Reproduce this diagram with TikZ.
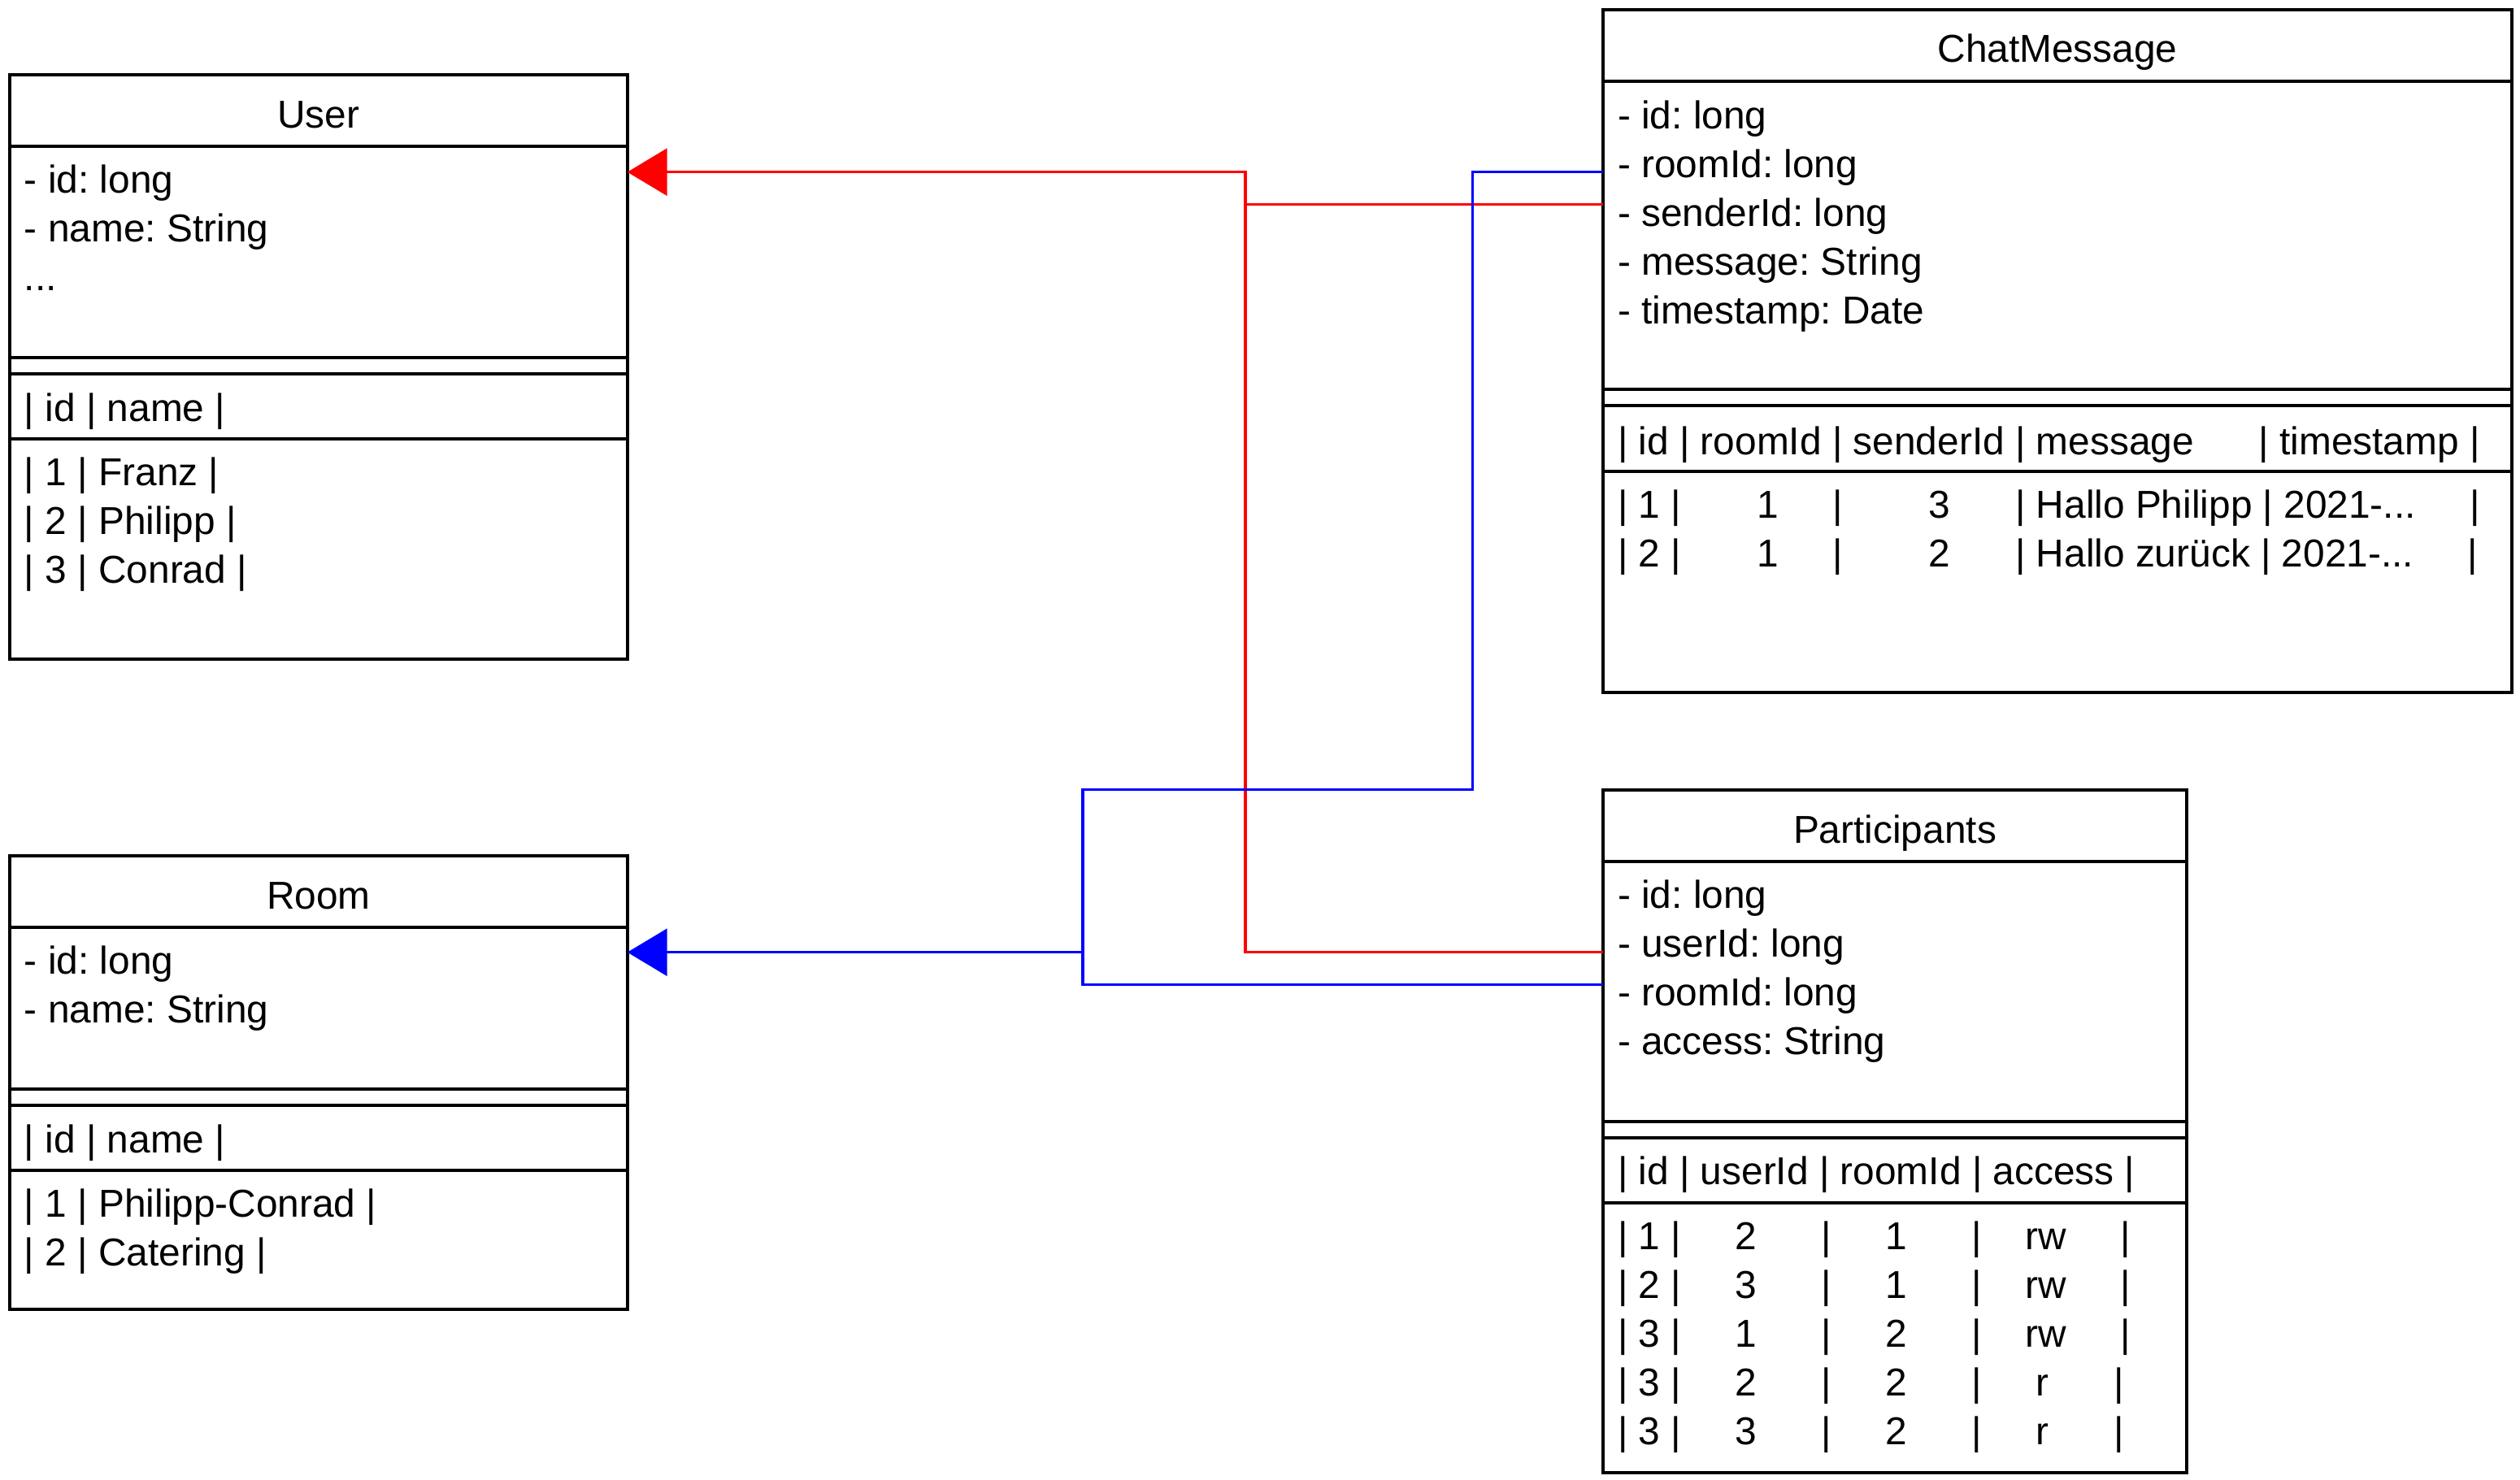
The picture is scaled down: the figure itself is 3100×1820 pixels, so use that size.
\documentclass[tikz,border=0pt]{standalone}
\usepackage{fontspec}
\setmainfont{Liberation Sans}
\usetikzlibrary{arrows.meta,fit,calc}
\newcommand\spc[1]{\hskip#1\fontdimen2\font\relax}
\frenchspacing
\begin{document}
\begin{tikzpicture}[x=0.01cm,y=-0.01cm,
  font=\fontsize{13.6pt}{17pt}\selectfont,
  box/.style={draw, line width=1.1pt, inner sep=0pt, outer sep=0pt},
  sepline/.style={line width=1.1pt},
  txt/.style={anchor=base west, inner sep=0pt, outer sep=0pt},
  ttl/.style={anchor=base, inner sep=0pt, outer sep=0pt},
  link/.style={line width=0.95pt},
  tipA/.style={-{Triangle[length=0.49cm,width=0.58cm]}}]
\useasboundingbox (0,0) rectangle (3100,1820);

% ---------- boxes ----------
\node[box, fit={(12,92) (771.7,811)}] (user) {};
\node[box, fit={(12,1053) (771.7,1611)}] (room) {};
\node[box, fit={(1972,12) (3090,852)}] (chat) {};
\node[box, fit={(1972,972) (2690,1812)}] (part) {};

% compartment lines
\draw[sepline] (12,180) -- (771.7,180);
\draw[sepline] (12,440) -- (771.7,440);
\draw[sepline] (12,460) -- (771.7,460);
\draw[sepline] (12,540) -- (771.7,540);
\draw[sepline] (12,1141) -- (771.7,1141);
\draw[sepline] (12,1340) -- (771.7,1340);
\draw[sepline] (12,1360) -- (771.7,1360);
\draw[sepline] (12,1440) -- (771.7,1440);
\draw[sepline] (1972,100) -- (3090,100);
\draw[sepline] (1972,479) -- (3090,479);
\draw[sepline] (1972,499) -- (3090,499);
\draw[sepline] (1972,580) -- (3090,580);
\draw[sepline] (1972,1060) -- (2690,1060);
\draw[sepline] (1972,1380) -- (2690,1380);
\draw[sepline] (1972,1400) -- (2690,1400);
\draw[sepline] (1972,1480) -- (2690,1480);

% ---------- titles ----------
\node[ttl] (user-title) at (391.85,157) {User};
\node[ttl] (room-title) at (391.85,1118) {Room};
\node[ttl] (chat-title) at (2531,76) {ChatMessage};
\node[ttl] (part-title) at (2331,1037) {Participants};

% ---------- User ----------
\node[txt] (user-a0) at (30,237) {- id: long};
\node[txt] (user-a1) at (30,297) {- name: String};
\node[txt] (user-a2) at (30,357) {...};
\node[txt] (user-h) at (30,518) {| id | name |};
\node[txt] (user-r0) at (30,597) {| 1 | Franz |};
\node[txt] (user-r1) at (30,657) {| 2 | Philipp |};
\node[txt] (user-r2) at (30,717) {| 3 | Conrad |};

% ---------- Room ----------
\node[txt] (room-a0) at (30,1198) {- id: long};
\node[txt] (room-a1) at (30,1258) {- name: String};
\node[txt] (room-h) at (30,1418) {| id | name |};
\node[txt] (room-r0) at (30,1497) {| 1 | Philipp-Conrad |};
\node[txt] (room-r1) at (30,1557) {| 2 | Catering |};

% ---------- ChatMessage ----------
\node[txt] (chat-a0) at (1990,158) {- id: long};
\node[txt] (chat-a1) at (1990,218) {- roomId: long};
\node[txt] (chat-a2) at (1990,278) {- senderId: long};
\node[txt] (chat-a3) at (1990,338) {- message: String};
\node[txt] (chat-a4) at (1990,398) {- timestamp: Date};
\node[txt] (chat-h) at (1990,559) {| id | roomId | senderId | message\spc{6}| timestamp |};
\node[txt] (chat-r0) at (1990,637) {| 1 |\spc{7}1\spc{5}|\spc{8}3\spc{6}| Hallo Philipp | 2021-...\spc{5}|};
\node[txt] (chat-r1) at (1990,697) {| 2 |\spc{7}1\spc{5}|\spc{8}2\spc{6}| Hallo zurück | 2021-...\spc{5}|};

% ---------- Participants ----------
\node[txt] (part-a0) at (1990,1117) {- id: long};
\node[txt] (part-a1) at (1990,1177) {- userId: long};
\node[txt] (part-a2) at (1990,1237) {- roomId: long};
\node[txt] (part-a3) at (1990,1297) {- access: String};
\node[txt] (part-h) at (1990,1457) {| id | userId | roomId | access |};
\node[txt] (part-r0) at (1990,1537) {| 1 |\spc{5}2\spc{6}|\spc{5}1\spc{6}|\spc{4}rw\spc{5}|};
\node[txt] (part-r1) at (1990,1597) {| 2 |\spc{5}3\spc{6}|\spc{5}1\spc{6}|\spc{4}rw\spc{5}|};
\node[txt] (part-r2) at (1990,1657) {| 3 |\spc{5}1\spc{6}|\spc{5}2\spc{6}|\spc{4}rw\spc{5}|};
\node[txt] (part-r3) at (1990,1717) {| 3 |\spc{5}2\spc{6}|\spc{5}2\spc{6}|\spc{5}r\spc{6}|};
\node[txt] (part-r4) at (1990,1777) {| 3 |\spc{5}3\spc{6}|\spc{5}2\spc{6}|\spc{5}r\spc{6}|};

% ---------- ports and bends ----------
\coordinate (user-in) at ($(user.north east)+(0,119.7)$);
\coordinate (room-in) at ($(room.north east)+(0,118.7)$);
\coordinate (chat-room) at ($(chat.north west)+(0,199.7)$);
\coordinate (chat-sender) at ($(chat.north west)+(0,239.7)$);
\coordinate (part-user) at ($(part.north west)+(0,199.7)$);
\coordinate (part-room) at ($(part.north west)+(0,239.7)$);
\coordinate (rbus) at (1532,211.7);
\coordinate (bbus1) at (1811.7,971.7);
\coordinate (bbus2) at (1332,1171.7);

% ---------- connectors ----------
\draw[link, red] (part-user) -| (rbus);
\draw[link, red, tipA] (chat-sender) -| (rbus) -- (user-in);
\draw[link, blue] (part-room) -| (bbus2);
\draw[link, blue, tipA] (chat-room) -| (bbus1) -| (bbus2) -- (room-in);
\end{tikzpicture}
\end{document}
